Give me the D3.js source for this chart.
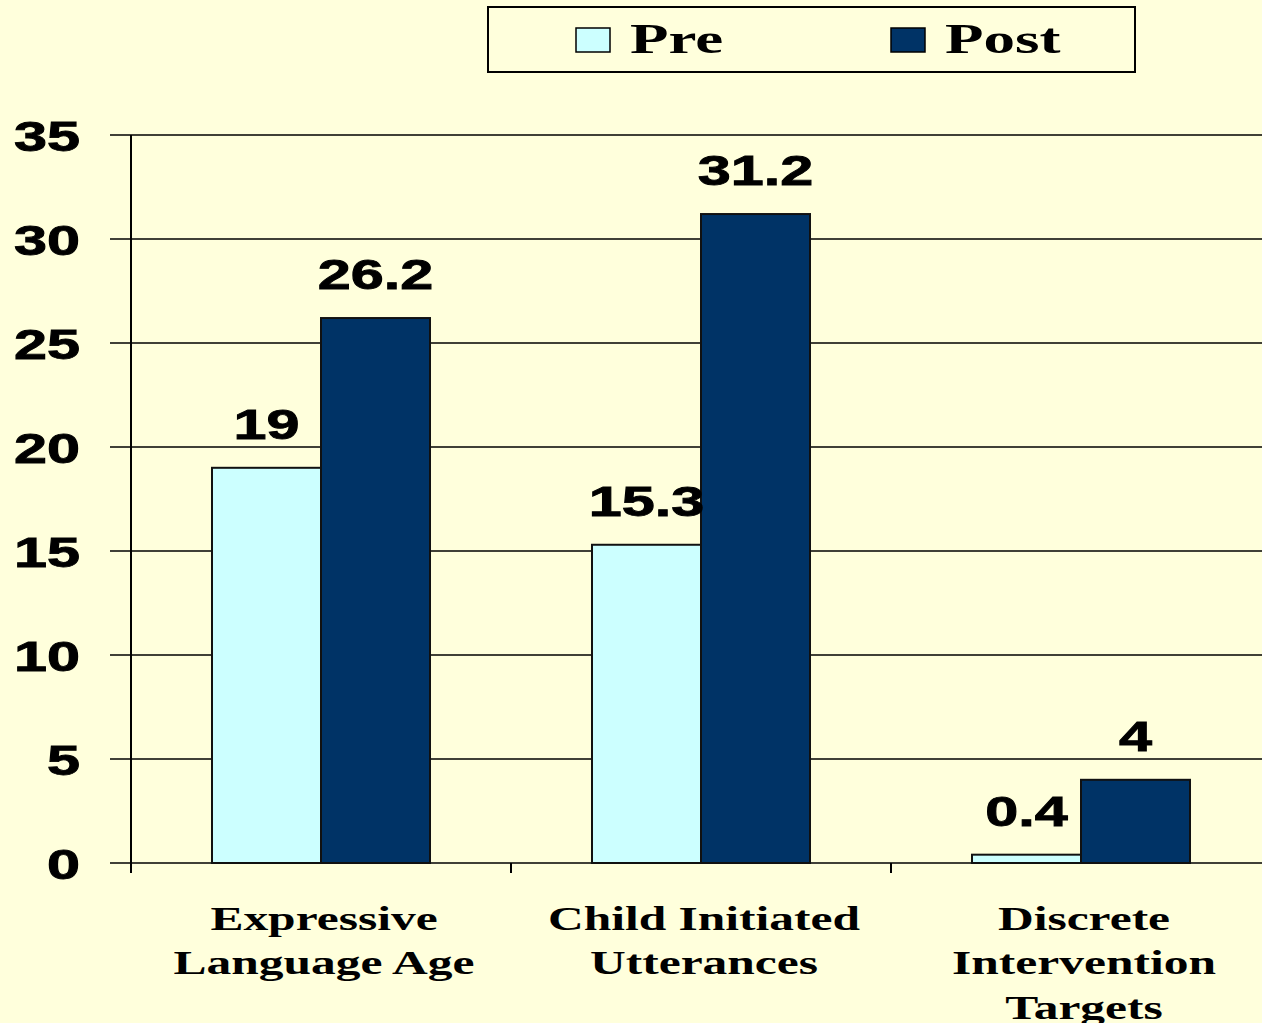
<!DOCTYPE html>
<html><head><meta charset="utf-8">
<script src="https://cdn.jsdelivr.net/npm/d3@7"></script>
<style>html,body{margin:0;padding:0;background:#ffffdc;overflow:hidden}</style>
</head><body>
<script>
const categories = [["Expressive","Language Age"],["Child Initiated","Utterances"],["Discrete","Intervention","Targets"]];
const seriesNames = ["Pre","Post"];
const preValues = [19, 15.3, 0.4];
const postValues = [26.2, 31.2, 4];
const yTicks = [0,5,10,15,20,25,30,35];
const colors = ["#ccffff","#003366"];

const W=1262,H=1023;
const svg=d3.select("body").append("svg").attr("width",W).attr("height",H);
svg.append("rect").attr("width",W).attr("height",H).attr("fill","#ffffdc");

const catKeys = categories.map(c=>c.join(" "));
const x0=d3.scaleBand().domain(catKeys).range([131,1271]).padding(0);
const x1=d3.scaleBand().domain(seriesNames).range([0,x0.bandwidth()]).paddingInner(0).paddingOuter(0.743);
const y=d3.scaleLinear().domain([0,35]).range([863,135]);
const SX=1.38, SXS=1.5;

// gridlines
svg.append("g").selectAll("line").data(yTicks).join("line")
  .attr("x1",110).attr("x2",W).attr("y1",d=>y(d)).attr("y2",d=>y(d))
  .attr("stroke","#000").attr("stroke-width",1.6);
// y axis
svg.append("line").attr("x1",131).attr("x2",131).attr("y1",y(35)).attr("y2",y(0)+10).attr("stroke","#000").attr("stroke-width",2);
// x ticks
svg.append("g").selectAll("line").data(catKeys).join("line")
  .attr("x1",d=>x0(d)).attr("x2",d=>x0(d)).attr("y1",y(0)).attr("y2",y(0)+10)
  .attr("stroke","#000").attr("stroke-width",2);

// y tick labels
svg.append("g").selectAll("text").data(yTicks).join("text")
  .attr("transform",d=>`translate(80,${y(d)+15.5}) scale(${SX},1)`)
  .attr("text-anchor","end")
  .attr("font-family","Liberation Sans, Arial, sans-serif").attr("font-weight","bold").attr("font-size",43)
  .attr("stroke","#000").attr("stroke-width",0.9)
  .text(d=>d);

// bars
const data=[];
catKeys.forEach((c,i)=>{data.push({c,s:"Pre",v:preValues[i]});data.push({c,s:"Post",v:postValues[i]});});
svg.append("g").selectAll("rect").data(data).join("rect")
  .attr("x",d=>x0(d.c)+x1(d.s)).attr("width",x1.bandwidth())
  .attr("y",d=>y(d.v)).attr("height",d=>y(0)-y(d.v))
  .attr("fill",d=>colors[seriesNames.indexOf(d.s)])
  .attr("stroke","#111").attr("stroke-width",2);

// value labels
svg.append("g").selectAll("text").data(data).join("text")
  .attr("transform",d=>`translate(${x0(d.c)+x1(d.s)+x1.bandwidth()/2},${y(d.v)-29}) scale(${SX},1)`)
  .attr("text-anchor","middle")
  .attr("font-family","Liberation Sans, Arial, sans-serif").attr("font-weight","bold").attr("font-size",43)
  .attr("stroke","#000").attr("stroke-width",0.9)
  .text(d=>d.v);

// category labels
const cg=svg.append("g").selectAll("g").data(categories).join("g")
  .attr("transform",(d,i)=>`translate(${x0(catKeys[i])+x0.bandwidth()/2+3},930) scale(${SXS},1)`);
cg.selectAll("text").data(d=>d).join("text")
  .attr("y",(d,i)=>i*44.5).attr("text-anchor","middle")
  .attr("font-family","Liberation Serif, Times New Roman, serif").attr("font-weight","bold")
  .attr("font-size",33).text(d=>d);

// legend
svg.append("rect").attr("x",488).attr("y",7).attr("width",647).attr("height",65)
  .attr("fill","#ffffdc").attr("stroke","#000").attr("stroke-width",2);
const lx=[576,891];
const lg=svg.append("g").selectAll("g").data(seriesNames).join("g");
lg.append("rect").attr("x",(d,i)=>lx[i]).attr("y",28).attr("width",34).attr("height",24)
  .attr("fill",(d,i)=>colors[i]).attr("stroke","#000").attr("stroke-width",1.5);
lg.append("text").attr("transform",(d,i)=>`translate(${lx[i]+54},53) scale(${SXS},1)`)
  .attr("font-family","Liberation Serif, Times New Roman, serif").attr("font-weight","bold")
  .attr("font-size",42).text(d=>d);
</script>
</body></html>
